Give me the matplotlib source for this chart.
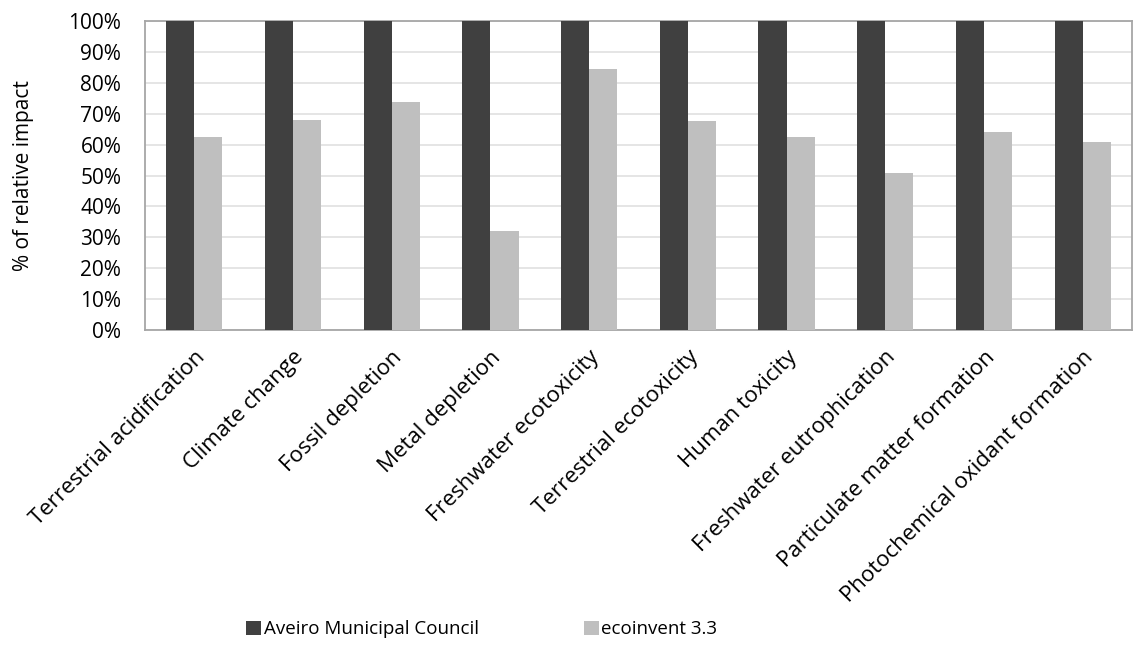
import numpy as np
import matplotlib
matplotlib.use('Agg')
import matplotlib.pyplot as plt
from matplotlib.ticker import PercentFormatter

categories = ['Terrestrial acidification', 'Climate change', 'Fossil depletion',
              'Metal depletion', 'Freshwater ecotoxicity', 'Terrestrial ecotoxicity',
              'Human toxicity', 'Freshwater eutrophication', 'Particulate matter formation',
              'Photochemical oxidant formation']
aveiro = [100, 100, 100, 100, 100, 100, 100, 100, 100, 100]
ecoinvent = [62.6, 67.9, 73.9, 32.1, 84.4, 67.6, 62.6, 50.7, 64.2, 61.0]
series_names = ['Aveiro Municipal Council', 'ecoinvent 3.3']

plt.rcParams['font.family'] = ['Open Sans', 'DejaVu Sans']

fig = plt.figure(figsize=(11.36, 6.5), dpi=100)
ax = fig.add_axes([0.1276, 0.4923, 0.869, 0.4754])

x = np.arange(len(categories))
w = 0.285
ax.bar(x - w/2, aveiro, w, color='#404040', label=series_names[0], zorder=3)
ax.bar(x + w/2, ecoinvent, w, color='#bfbfbf', label=series_names[1], zorder=3)

ax.set_xlim(-0.5, len(categories) - 0.5)
ax.set_ylim(0, 100)
ax.set_yticks(np.arange(0, 101, 10))
ax.yaxis.set_major_formatter(PercentFormatter(decimals=0))
ax.grid(axis='y', color='#e0e0e0', lw=1.2, zorder=0)
for s in ax.spines.values():
    s.set_color('#a6a6a6')
    s.set_linewidth(1.3)
ax.tick_params(length=0, labelsize=15, colors='black')
ax.tick_params(axis='y', pad=17)
ax.tick_params(axis='x', pad=12)
ax.set_xticks(x)
ax.set_xticklabels(categories, rotation=45, ha='right', rotation_mode='anchor', fontsize=16)
ax.set_ylabel('% of relative impact', fontsize=15)
ax.yaxis.set_label_coords(-0.112, 0.5)

fig.legend(loc='center', bbox_to_anchor=(0.424, 0.032), ncol=2, frameon=False,
           fontsize=13.5, handlelength=0.8, handleheight=0.8, handletextpad=0.15,
           columnspacing=5.6)

fig.savefig('out.png', dpi=100)
